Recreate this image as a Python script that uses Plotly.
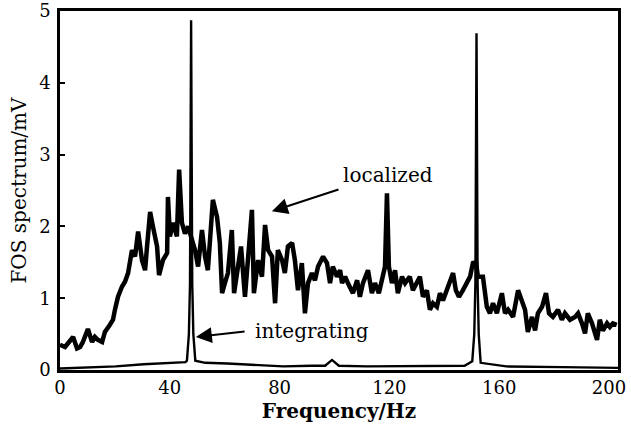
import plotly.graph_objects as go

# Localized FOS spectrum (Hz, mV)
loc_freq = [0.0, 1.83, 4.78, 6.2, 7.32, 8.33, 10.16, 11.69, 12.71, 13.82, 15.35, 16.36, 18.19,
            19.31, 20.02, 21.14, 22.56, 23.68, 24.8, 26.22, 27.34, 28.46, 29.88, 31.0, 31.71,
            32.83, 33.85, 35.37, 36.08, 37.51, 39.03, 39.33, 40.05, 41.16, 42.59, 43.4, 44.42,
            45.53, 46.65, 48.08, 49.19, 50.31, 51.73, 52.85, 53.87, 55.7, 57.22, 58.24, 59.05,
            60.07, 61.19, 62.61, 63.42, 64.85, 65.96, 67.39, 68.51, 69.93, 70.64, 72.16, 73.59,
            74.71, 75.82, 77.25, 78.36, 79.38, 80.91, 81.92, 83.04, 84.56, 85.58, 86.7, 88.12,
            89.24, 90.36, 91.78, 92.9, 94.02, 95.85, 97.27, 98.39, 99.4, 100.93, 102.05, 102.76,
            103.88, 104.89, 106.72, 108.25, 109.26, 110.38, 112.21, 113.63, 114.75, 116.17,
            117.29, 118.41, 119.12, 119.83, 120.95, 122.07, 123.09, 124.61, 125.73, 127.46,
            128.57, 130.1, 131.12, 132.23, 133.66, 134.77, 135.89, 137.32, 138.43, 139.55,
            140.97, 142.09, 143.21, 144.23, 145.35, 146.77, 148.29, 149.41, 150.43, 151.55,
            152.26, 154.09, 155.51, 156.63, 157.75, 159.17, 161.0, 162.12, 163.23, 165.06,
            166.89, 168.32, 169.43, 170.45, 171.97, 173.09, 174.11, 175.63, 177.06, 178.17,
            179.6, 181.43, 182.85, 183.97, 185.8, 187.63, 188.75, 190.17, 191.29, 192.3, 193.83,
            195.66, 196.67, 197.79, 199.32, 200.33, 201.45, 202.87]
loc_mv = [0.35, 0.32, 0.46, 0.30, 0.32, 0.39, 0.57, 0.39, 0.46, 0.42, 0.39, 0.53, 0.63, 0.70, 0.84,
          1.02, 1.16, 1.23, 1.35, 1.67, 1.58, 1.93, 1.53, 1.39, 1.72, 2.20, 2.00, 1.72, 1.32,
          1.53, 1.63, 2.41, 1.86, 2.05, 1.86, 2.79, 2.05, 1.90, 2.00, 1.80, 1.67, 1.44, 1.95,
          1.58, 1.39, 2.37, 2.13, 1.77, 1.07, 1.21, 1.35, 1.95, 1.07, 1.44, 1.72, 1.02, 1.58,
          2.23, 1.07, 1.53, 1.30, 2.02, 1.67, 1.58, 0.93, 1.67, 1.53, 1.35, 1.72, 1.77, 1.53,
          1.11, 1.49, 0.79, 1.21, 1.35, 1.25, 1.44, 1.58, 1.49, 1.21, 1.44, 1.30, 1.39, 1.21,
          1.30, 1.21, 1.07, 1.25, 1.02, 1.21, 1.39, 1.07, 1.21, 1.07, 1.25, 1.44,
          2.46, 1.44, 1.21, 1.39, 1.07, 1.30, 1.21, 1.30, 1.11, 1.21, 1.30, 1.02,
          1.11, 0.84, 0.93, 0.88, 1.07, 0.97, 1.11, 1.21, 1.35, 1.11, 1.02, 1.11,
          1.21, 1.30, 1.49, 1.50, 1.30, 1.30, 0.88, 0.79, 0.93, 0.79, 1.07, 0.79,
          0.84, 0.74, 1.11, 0.97, 0.84, 0.53, 0.74, 0.55, 0.79, 0.88, 1.07, 0.79,
          0.74, 0.84, 0.70, 0.79, 0.70, 0.74, 0.79, 0.65, 0.51, 0.79, 0.65, 0.42,
          0.70, 0.55, 0.65, 0.60, 0.65, 0.63]

# Integrating FOS spectrum (Hz, mV)
int_freq = [0, 10.2, 20.3, 30.5, 40.7, 45.7, 46.25, 46.96, 47.36, 47.77, 48.18, 48.58, 49.3, 52.9,
            61.0, 71.1, 81.3, 91.5, 96.6, 99.1, 101.6, 111.8, 132.1, 147.4, 150.2, 150.93, 151.34,
            151.75, 152.15, 152.56, 153.27, 162.6, 183.0, 203.3]
int_mv = [0.02, 0.03, 0.05, 0.08, 0.10, 0.11, 0.13, 0.5, 1.2, 4.87, 1.2, 0.5, 0.13, 0.10, 0.09,
          0.07, 0.05, 0.06, 0.06, 0.14, 0.06, 0.05, 0.05, 0.06, 0.12, 0.5, 1.2, 4.69, 1.2, 0.5,
          0.10, 0.05, 0.04, 0.03]

x_ticks = [0, 40, 80, 120, 160, 200]
y_ticks = [0, 1, 2, 3, 4, 5]

FONT = "DejaVu Serif"

fig = go.Figure()
fig.add_trace(go.Scatter(x=int_freq, y=int_mv, mode="lines",
                         line=dict(color="black", width=2.4), name="integrating"))
fig.add_trace(go.Scatter(x=loc_freq, y=loc_mv, mode="lines",
                         line=dict(color="black", width=4.5), name="localized"))

fig.add_annotation(x=119.5, y=2.72, text="localized", showarrow=False,
                   font=dict(family=FONT, size=20, color="black"))
fig.add_annotation(x=77.2, y=2.21, ax=102.0, ay=2.52, axref="x", ayref="y", text="",
                   showarrow=True, arrowhead=2, arrowsize=1.6, arrowwidth=2, arrowcolor="black")
fig.add_annotation(x=91.8, y=0.54, text="integrating", showarrow=False,
                   font=dict(family=FONT, size=20, color="black"))
fig.add_annotation(x=49.5, y=0.46, ax=67.8, ay=0.54, axref="x", ayref="y", text="",
                   showarrow=True, arrowhead=2, arrowsize=1.6, arrowwidth=2, arrowcolor="black")

fig.update_layout(
    width=631, height=430,
    margin=dict(l=60, r=13, t=11, b=60),
    paper_bgcolor="white", plot_bgcolor="white",
    showlegend=False,
    font=dict(family=FONT, color="black"),
)
fig.update_xaxes(range=[0, 203.3], tickvals=x_ticks, ticktext=[str(v) for v in x_ticks],
                 automargin=False, ticklabeloverflow="allow",
                 showgrid=False, zeroline=False, showline=True, linecolor="black", linewidth=2.5,
                 mirror=True, ticks="", tickfont=dict(family=FONT, size=18, color="black"),
                 title=dict(text="<b>Frequency/Hz</b>", font=dict(family=FONT, size=20), standoff=7))
fig.update_yaxes(range=[0, 5], tickvals=y_ticks, ticktext=[str(v) for v in y_ticks],
                 automargin=False, ticklabeloverflow="allow", ticklabelstandoff=3,
                 showgrid=False, zeroline=False, showline=True, linecolor="black", linewidth=2.5,
                 mirror=True, ticks="inside", ticklen=5, tickwidth=2, tickcolor="black",
                 tickfont=dict(family=FONT, size=18, color="black"),
                 title=dict(text="FOS spectrum/mV", font=dict(family=FONT, size=20), standoff=8))

fig.write_html("out.html", config={"displayModeBar": False},
               post_script="document.body.style.margin='0';")
